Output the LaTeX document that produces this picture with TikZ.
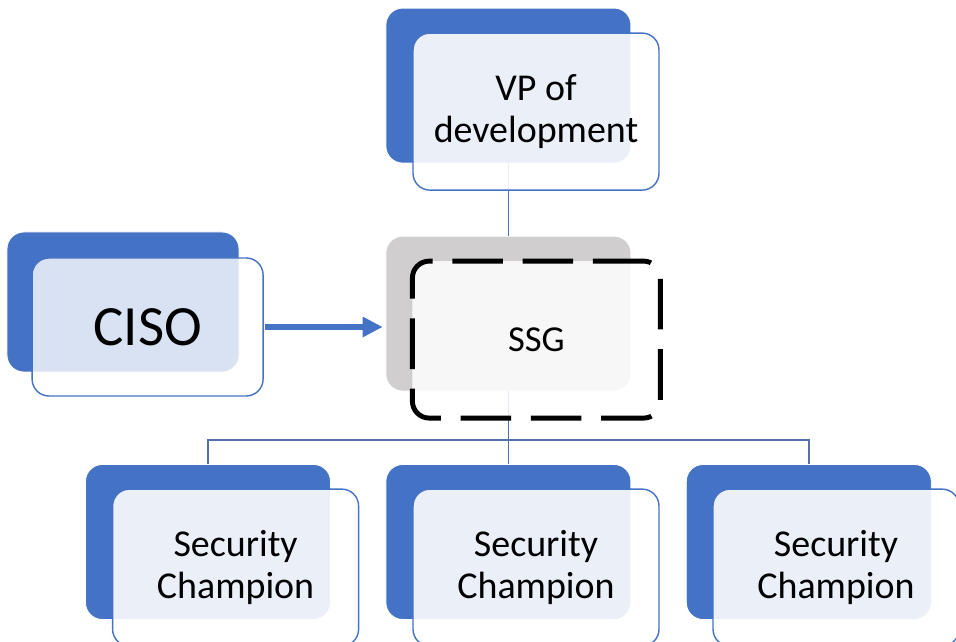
\documentclass[tikz,border=0pt]{standalone}
\usepackage{fontspec}
\setmainfont{Carlito}
\usepackage{xcolor}
\usepackage{tikz}
\usetikzlibrary{arrows.meta}

\definecolor{accent}{HTML}{4472C4}
\definecolor{linkblue}{HTML}{5470AA}
\definecolor{ssggray}{HTML}{D0CECE}

\begin{document}
\begin{tikzpicture}[font=\fontsize{27}{30}\selectfont]
	\useasboundingbox (0,0) rectangle (23.9,16.05);
	% Define styles
	\tikzstyle{back}=[rectangle, rounded corners=12pt, draw=white, line width=0.6pt, fill=accent, minimum width=6.125cm, minimum height=3.875cm, inner sep=0pt, outer sep=0pt]
	\tikzstyle{front}=[rectangle, rounded corners=12pt, draw=accent, line width=1pt, fill=white, fill opacity=0.89, text opacity=1, minimum width=6.15cm, minimum height=3.925cm, align=center, inner sep=0pt, outer sep=0pt]
	\tikzstyle{ssgback}=[back, fill=ssggray]
	\tikzstyle{ssgfront}=[front, draw=black, line width=3.5pt, dash pattern=on 36pt off 14pt, fill opacity=0.85, minimum width=6.2cm]
	\tikzstyle{link}=[draw=linkblue, line width=1.1pt]
	\tikzstyle{push}=[draw=accent, line width=3.6pt, -{Triangle[length=0.5cm, width=0.48cm]}, shorten >=0.08cm, shorten <=0.05cm]

	% back boxes
	\node[back] (vpback) at (12.71,13.91) {};
	\node[ssgback] (ssgback) at (12.71,8.21) {};
	\node[back, minimum width=5.8cm, minimum height=3.5cm] (cisoback) at (3.075,8.5) {};
	\node[back] (champAback) at (5.2,2.5) {};
	\node[back] (champBback) at (12.71,2.5) {};
	\node[back] (champCback) at (20.22,2.5) {};

	% connectors
	\coordinate (split) at (12.71,5.05);
	\draw[link] (vpback.south) -- (ssgback.north);
	\draw[link] (ssgback.south) -- (split);
	\draw[link] (split) -| (champAback.north);
	\draw[link] (split) -| (champCback.north);
	\draw[link] (split) -- (champBback.north);

	% front boxes
	\node[front] (vp) at (13.40,13.26) {VP of\\development};
	\node[front, fill opacity=0.8, minimum width=5.775cm, minimum height=3.45cm, font=\fontsize{40.5}{44}\selectfont] (ciso) at (3.69,7.875) {CISO};
	\node[ssgfront, font=\fontsize{26}{30}\selectfont] (ssg) at (13.41,7.56) {SSG};
	\node[front] (champA) at (5.89,1.86) {Security\\Champion};
	\node[front] (champB) at (13.40,1.86) {Security\\Champion};
	\node[front] (champC) at (20.90,1.86) {Security\\Champion};

	\draw[push] (ciso.east) -- (ciso.east -| ssgback.west);
\end{tikzpicture}
\end{document}
